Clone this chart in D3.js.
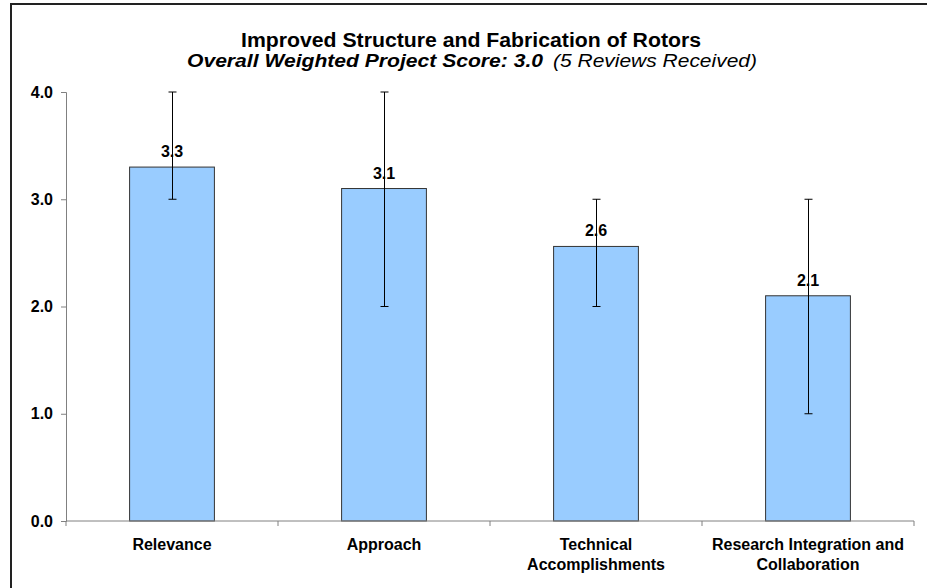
<!DOCTYPE html>
<html><head><meta charset="utf-8">
<script src="https://cdn.jsdelivr.net/npm/d3@7"></script>
<style>html,body{margin:0;padding:0;background:#fff;}svg{display:block;font-family:Arial,"Liberation Sans",sans-serif;}</style>
</head><body>
<svg id="c" width="927" height="588"></svg>
<script>
const categories = [["Relevance"], ["Approach"], ["Technical", "Accomplishments"], ["Research Integration and", "Collaboration"]];
const scores = [3.3, 3.1, 2.56, 2.1];
const scoreLabels = ["3.3", "3.1", "2.6", "2.1"];
const lows = [3.0, 2.0, 2.0, 1.0];
const highs = [4.0, 4.0, 3.0, 3.0];
const yTicks = [0, 1, 2, 3, 4];
const title = "Improved Structure and Fabrication of Rotors";
const subtitleBold = "Overall Weighted Project Score: 3.0";
const subtitleRest = "(5 Reviews Received)";

const svg = d3.select("#c");
const keys = categories.map((c, i) => i);
const x = d3.scaleBand().domain(keys).range([66, 914]).paddingInner(0.6).paddingOuter(0.3);
const y = d3.scaleLinear().domain([0, 4]).range([521, 92]);

// frame
svg.append("rect").attr("x", 11).attr("y", 4).attr("width", 1000).attr("height", 1000)
  .attr("fill", "none").attr("stroke", "#222").attr("stroke-width", 2);

// title
svg.append("text").attr("x", 241).attr("y", 47)
  .attr("font-size", 20).attr("font-weight", "bold").attr("fill", "#000")
  .attr("textLength", 460).attr("lengthAdjust", "spacingAndGlyphs").text(title);
svg.append("text").attr("x", 187).attr("y", 67)
  .attr("font-size", 18).attr("font-weight", "bold").attr("font-style", "italic").attr("fill", "#000")
  .attr("textLength", 356).attr("lengthAdjust", "spacingAndGlyphs").text(subtitleBold);
svg.append("text").attr("x", 553).attr("y", 67)
  .attr("font-size", 18).attr("font-style", "italic").attr("fill", "#000")
  .attr("textLength", 204).attr("lengthAdjust", "spacingAndGlyphs").text(subtitleRest);

// bars
svg.append("g").selectAll("rect").data(scores).join("rect")
  .attr("x", (d, i) => x(i)).attr("y", d => y(d))
  .attr("width", x.bandwidth()).attr("height", d => y(0) - y(d))
  .attr("fill", "#99CCFF").attr("stroke", "#333").attr("stroke-width", 1);

// y axis
const yAxis = d3.axisLeft(y).tickValues(yTicks).tickFormat(d3.format(".1f")).tickSize(5).tickPadding(8);
const gy = svg.append("g").attr("transform", "translate(66,0)").call(yAxis);
gy.select(".domain").attr("stroke", "#808080");
gy.selectAll(".tick line").attr("stroke", "#808080");
gy.selectAll(".tick text").attr("font-size", 16).attr("font-weight", "bold").attr("fill", "#000").attr("font-family", "Arial, 'Liberation Sans', sans-serif");

// x axis line and boundary ticks
const step = x.step();
const x0 = x.range()[0];
svg.append("line").attr("x1", x0).attr("x2", x.range()[1]).attr("y1", y(0)).attr("y2", y(0)).attr("stroke", "#808080");
svg.append("g").selectAll("line").data(d3.range(keys.length + 1)).join("line")
  .attr("x1", i => x0 + i * step).attr("x2", i => x0 + i * step)
  .attr("y1", y(0)).attr("y2", y(0) + 5).attr("stroke", "#808080");

// x labels
const xl = svg.append("g").selectAll("text").data(categories).join("text")
  .attr("text-anchor", "middle").attr("font-size", 16).attr("font-weight", "bold").attr("fill", "#000")
  .attr("x", (d, i) => x(i) + x.bandwidth() / 2).attr("y", 550);
xl.selectAll("tspan").data(d => d).join("tspan")
  .attr("x", function () { return d3.select(this.parentNode).attr("x"); })
  .attr("dy", (d, j) => j === 0 ? 0 : 20).text(d => d);

// value labels
svg.append("g").selectAll("text").data(scores).join("text")
  .attr("text-anchor", "middle").attr("font-size", 16).attr("font-weight", "bold").attr("fill", "#000")
  .attr("x", (d, i) => x(i) + x.bandwidth() / 2).attr("y", d => y(d) - 10)
  .text((d, i) => scoreLabels[i]);

// error bars
const eb = svg.append("g").attr("stroke", "#000").attr("stroke-width", 1);
keys.forEach(i => {
  const cx = Math.round(x(i) + x.bandwidth() / 2) + 0.5;
  eb.append("line").attr("x1", cx).attr("x2", cx).attr("y1", y(lows[i])).attr("y2", y(highs[i]));
  eb.append("line").attr("x1", cx - 4).attr("x2", cx + 4).attr("y1", y(lows[i])).attr("y2", y(lows[i]));
  eb.append("line").attr("x1", cx - 4).attr("x2", cx + 4).attr("y1", y(highs[i])).attr("y2", y(highs[i]));
});
</script>
</body></html>
